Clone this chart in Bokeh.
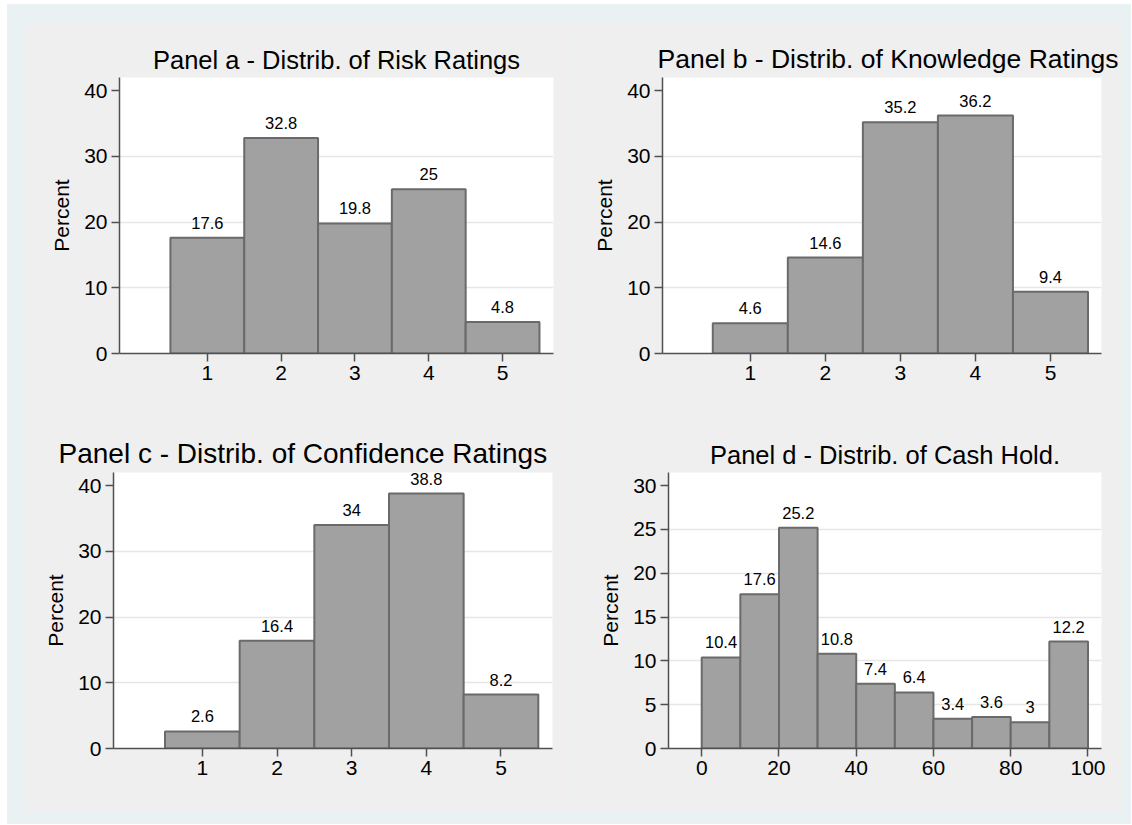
from bokeh.plotting import figure
from bokeh.layouts import row, column
from bokeh.models import Range1d, FixedTicker, Spacer, ColumnDataSource
from bokeh.embed import file_html
from bokeh.resources import INLINE
from bokeh.core.properties import value

# ---- data ----
rating_levels = [1, 2, 3, 4, 5]
risk_pct = [17.6, 32.8, 19.8, 25, 4.8]
knowledge_pct = [4.6, 14.6, 35.2, 36.2, 9.4]
confidence_pct = [2.6, 16.4, 34, 38.8, 8.2]
cash_bin_start = [0, 10, 20, 30, 40, 50, 60, 70, 80, 90]
cash_pct = [10.4, 17.6, 25.2, 10.8, 7.4, 6.4, 3.4, 3.6, 3, 12.2]

titles = [
    "Panel a - Distrib. of Risk Ratings",
    "Panel b - Distrib. of Knowledge Ratings",
    "Panel c - Distrib. of Confidence Ratings",
    "Panel d - Distrib. of Cash Hold.",
]
rating_ticks = [1, 2, 3, 4, 5]
rating_yticks = [0, 10, 20, 30, 40]
cash_xticks = [0, 20, 40, 60, 80, 100]
cash_yticks = [0, 5, 10, 15, 20, 25, 30]

FONT = "Liberation Sans"
OUTER_BG = "#E9F1F3"
INNER_BG = "#EFEFEF"
AXIS_C = "#505050"


def make_panel(title, lefts, rights, vals, xr, yr, xticks, yticks, gridticks,
               w, h, bl, br, bt, bb, tsize="25.5px", talign="center", toffset=0):
    p = figure(width=w, height=h, output_backend="svg", toolbar_location=None,
               x_range=Range1d(*xr), y_range=Range1d(*yr),
               min_border_left=bl, min_border_right=br,
               min_border_top=bt, min_border_bottom=bb)
    p.border_fill_color = INNER_BG
    p.background_fill_color = "white"
    p.outline_line_color = None

    p.title.text = title
    p.title.align = talign
    p.title.offset = toffset
    p.title.text_font = FONT
    p.title.text_font_size = tsize
    p.title.text_font_style = "normal"
    p.title.text_color = "black"
    p.title.standoff = 7

    centers = [(l + r) / 2 for l, r in zip(lefts, rights)]
    src = ColumnDataSource(dict(left=lefts, right=rights, top=vals,
                                bottom=[0] * len(vals), x=centers,
                                label=[f"{v:g}" for v in vals]))
    p.quad(left="left", right="right", top="top", bottom="bottom", source=src,
           fill_color="#A1A1A1", line_color="#6A6A6A", line_width=2)
    p.text(x="x", y="top", text="label", source=src, text_align="center",
           text_baseline="alphabetic", y_offset=-15,
           text_font=value(FONT), text_font_size="16.5px", text_color="black")

    for ax in (p.xaxis[0], p.yaxis[0]):
        ax.axis_line_color = AXIS_C
        ax.axis_line_width = 1.5
        ax.major_tick_line_color = AXIS_C
        ax.major_tick_line_width = 1.5
        ax.major_tick_out = 8
        ax.major_tick_in = 0
        ax.minor_tick_line_color = None
        ax.major_label_text_font = FONT
        ax.major_label_text_font_size = "21px"
        ax.major_label_text_color = "black"
        ax.major_label_standoff = 4
    p.xaxis.ticker = FixedTicker(ticks=xticks)
    p.yaxis.ticker = FixedTicker(ticks=yticks)
    p.yaxis.axis_label = "Percent"
    p.yaxis.axis_label_text_font = FONT
    p.yaxis.axis_label_text_font_size = "21px"
    p.yaxis.axis_label_text_font_style = "normal"
    p.yaxis.axis_label_text_color = "black"
    p.yaxis.axis_label_standoff = 8

    p.xgrid.grid_line_color = None
    p.ygrid.ticker = FixedTicker(ticks=gridticks)
    p.ygrid.grid_line_color = "#E6E6E6"
    p.ygrid.grid_line_width = 1.5
    return p


r_left = [c - 0.5 for c in rating_levels]
r_right = [c + 0.5 for c in rating_levels]
c_left = cash_bin_start
c_right = [b + 10 for b in cash_bin_start]

pa = make_panel(titles[0], r_left, r_right, risk_pct, (-0.19, 5.69), (0, 42),
                rating_ticks, rating_yticks, [10, 20, 30], 549, 395, 94, 21, 55, 64)
pb = make_panel(titles[1], r_left, r_right, knowledge_pct, (-0.17, 5.68), (0, 42),
                rating_ticks, rating_yticks, [10, 20, 30], 548, 395, 88, 21, 55, 64,
                tsize="26.5px", talign="left", toffset=-5)
pc = make_panel(titles[2], r_left, r_right, confidence_pct, (-0.19, 5.69), (0, 42),
                rating_ticks, rating_yticks, [10, 20, 30], 549, 394, 88, 22, 55, 63,
                tsize="28px", talign="left", toffset=-55)
pd = make_panel(titles[3], c_left, c_right, cash_pct, (-8.6, 103.5), (0, 31.5),
                cash_xticks, cash_yticks, [5, 10, 15, 20, 25], 548, 394, 94, 21, 55, 63)

grid = column(row(pa, pb), row(pc, pd))
inner = column(Spacer(height=18), grid, Spacer(height=13))
blue_box = row(Spacer(width=18), inner, Spacer(width=9),
               styles={"background-color": OUTER_BG})
page = column(Spacer(height=4), row(Spacer(width=7), blue_box))

open("out.html", "w").write(file_html(page, INLINE))
